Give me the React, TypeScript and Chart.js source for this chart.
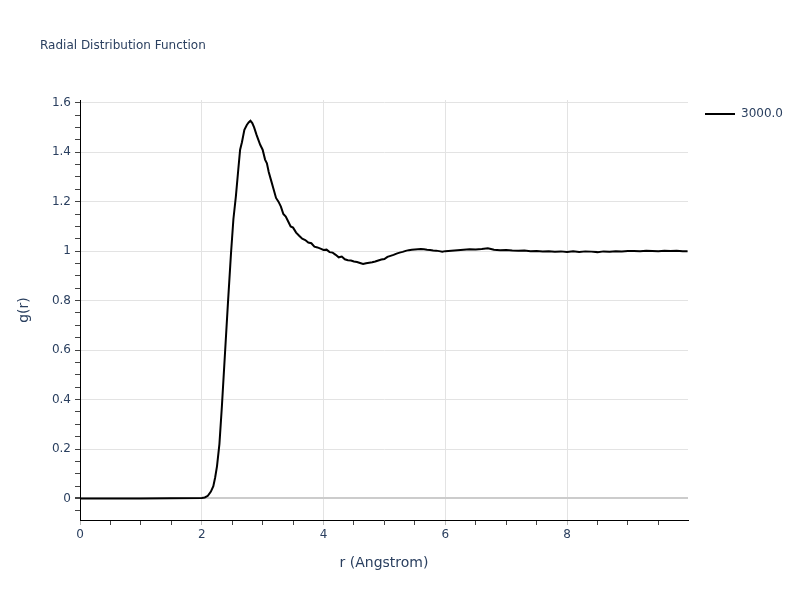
import { useEffect, useRef } from 'react';
import { Chart, registerables } from 'chart.js';

Chart.register(...registerables);

// r (Angstrom) sample positions and the g(r) values
const rValues = [
  0, 0.5, 1.0, 1.5, 2.0, 2.05, 2.1, 2.15, 2.19, 2.22, 2.25, 2.29, 2.33, 2.38, 2.43, 2.48,
  2.52, 2.56, 2.6, 2.63, 2.66, 2.7, 2.74, 2.77, 2.8, 2.83, 2.86, 2.9, 2.93, 2.96,
  3.0, 3.04, 3.07, 3.1, 3.14, 3.18, 3.22, 3.26, 3.3, 3.34, 3.38, 3.42, 3.46, 3.5,
  3.55, 3.6, 3.65, 3.7, 3.75, 3.8, 3.85, 3.9, 3.95, 4.0, 4.05, 4.1, 4.15, 4.2, 4.25,
  4.3, 4.35, 4.4, 4.45, 4.5, 4.55, 4.6, 4.65, 4.7, 4.75, 4.8, 4.85, 4.9, 4.95, 5.0,
  5.05, 5.1, 5.15, 5.2, 5.25, 5.3, 5.35, 5.4, 5.45, 5.5, 5.55, 5.6, 5.65, 5.7, 5.75,
  5.8, 5.85, 5.9, 5.95, 6.0, 6.1, 6.2, 6.3, 6.4, 6.5, 6.6, 6.7, 6.8, 6.9, 7.0, 7.1,
  7.2, 7.3, 7.4, 7.5, 7.6, 7.7, 7.8, 7.9, 8.0, 8.1, 8.2, 8.3, 8.4, 8.5, 8.6, 8.7,
  8.8, 8.9, 9.0, 9.1, 9.2, 9.3, 9.4, 9.5, 9.6, 9.7, 9.8, 9.9, 9.98,
];
const gValues = [
  0, 0, 0, 0.001, 0.002, 0.004, 0.011, 0.028, 0.05, 0.085, 0.13, 0.22, 0.37, 0.58, 0.79, 0.99,
  1.13, 1.22, 1.33, 1.41, 1.44, 1.49, 1.51, 1.52, 1.527, 1.518, 1.5, 1.47, 1.45, 1.43,
  1.41, 1.37, 1.355, 1.32, 1.285, 1.25, 1.215, 1.2, 1.18, 1.15, 1.14, 1.12, 1.1, 1.095,
  1.075, 1.062, 1.05, 1.045, 1.035, 1.032, 1.018, 1.015, 1.01, 1.005, 1.006, 0.996, 0.994, 0.985, 0.975,
  0.978, 0.967, 0.963, 0.962, 0.958, 0.956, 0.952, 0.948, 0.951, 0.953, 0.955, 0.958, 0.962, 0.966, 0.968,
  0.977, 0.981, 0.985, 0.99, 0.994, 0.997, 1.001, 1.004, 1.006, 1.007, 1.008, 1.009, 1.008, 1.006, 1.005,
  1.003, 1.002, 1.0, 0.998, 1.0, 1.002, 1.004, 1.006, 1.008, 1.007, 1.009, 1.012, 1.006, 1.004, 1.005, 1.003,
  1.002, 1.003, 1.0, 1.001, 0.999, 1.0, 0.998, 0.999, 0.997, 0.999, 0.997, 0.999, 0.998, 0.996, 0.999, 0.998,
  1.0, 0.999, 1.001, 1.001, 1.0, 1.002, 1.001, 1.0, 1.002, 1.001, 1.002, 1.0, 1.0,
];

const xTickLabels = [0, 2, 4, 6, 8];
const yTickLabels = [0, 0.2, 0.4, 0.6, 0.8, 1, 1.2, 1.4, 1.6];
const seriesName = '3000.0';

const FONT = '"DejaVu Sans", sans-serif';
const TEXT = '#2a3f5f';
const X_MIN = 0;
const X_MAX = 9.987;
const Y_MIN = -0.087;
const Y_MAX = 1.611;

const isLabelled = (list: number[], v: number) => list.some((t) => Math.abs(t - v) < 1e-6);

function minorTicks(min: number, max: number, step: number) {
  const out: { value: number }[] = [];
  for (let v = Math.ceil(min / step) * step; v <= max + 1e-9; v += step) {
    out.push({ value: Math.round(v * 1000) / 1000 });
  }
  return out;
}

const decorations = {
  id: 'decorations',
  afterDraw(chart: Chart) {
    const { ctx, chartArea } = chart;
    ctx.save();
    ctx.fillStyle = TEXT;
    ctx.textBaseline = 'middle';

    ctx.font = `12px ${FONT}`;
    ctx.textAlign = 'left';
    ctx.fillText('Radial Distribution Function', 40, 46);

    ctx.font = `14px ${FONT}`;
    ctx.textAlign = 'center';
    ctx.fillText('r (Angstrom)', (chartArea.left + chartArea.right) / 2, 563);

    ctx.save();
    ctx.translate(24, (chartArea.top + chartArea.bottom) / 2);
    ctx.rotate(-Math.PI / 2);
    ctx.fillText('g(r)', 0, 0);
    ctx.restore();

    // legend
    ctx.strokeStyle = '#000';
    ctx.lineWidth = 2;
    ctx.beginPath();
    ctx.moveTo(705, 114);
    ctx.lineTo(735, 114);
    ctx.stroke();
    ctx.font = `12px ${FONT}`;
    ctx.textAlign = 'left';
    ctx.fillText(seriesName, 741, 114);
    ctx.restore();
  },
};

export default function App() {
  const canvasRef = useRef<HTMLCanvasElement>(null);
  const chartRef = useRef<Chart | null>(null);

  useEffect(() => {
    if (!canvasRef.current) return;
    const ctx = canvasRef.current.getContext('2d');
    if (!ctx) return;

    chartRef.current?.destroy();
    chartRef.current = new Chart(ctx, {
      type: 'line',
      data: {
        datasets: [{
          label: seriesName,
          data: rValues.map((r, i) => ({ x: r, y: gValues[i] })),
          borderColor: '#000',
          borderWidth: 2,
          pointRadius: 0,
          tension: 0,
          fill: false,
        }],
      },
      options: {
        responsive: false,
        animation: false,
        layout: { padding: { top: 100, right: 112, bottom: 0, left: 0 } },
        plugins: {
          legend: { display: false },
          tooltip: { enabled: false },
        },
        scales: {
          x: {
            type: 'linear',
            min: X_MIN,
            max: X_MAX,
            afterBuildTicks: (axis: any) => { axis.ticks = minorTicks(X_MIN, X_MAX, 0.5); },
            afterFit: (axis: any) => { axis.height = 80; },
            border: { display: true, color: '#000', width: 1 },
            grid: {
              color: (c: any) => (isLabelled(xTickLabels, c.tick.value) && c.tick.value !== 0 ? '#e3e3e3' : 'transparent'),
              tickColor: (c: any) => (isLabelled(xTickLabels, c.tick.value) ? '#bbbbbb' : '#444'),
              tickLength: 5,
              lineWidth: 1,
            },
            ticks: {
              autoSkip: false,
              maxRotation: 0,
              padding: 3,
              color: TEXT,
              font: { family: FONT, size: 12 },
              callback: (v: any) => (isLabelled(xTickLabels, Number(v)) ? String(v) : ''),
            },
          },
          y: {
            min: Y_MIN,
            max: Y_MAX,
            afterBuildTicks: (axis: any) => { axis.ticks = minorTicks(Y_MIN, Y_MAX, 0.05); },
            afterFit: (axis: any) => { axis.width = 80; },
            border: { display: true, color: '#000', width: 1 },
            grid: {
              color: (c: any) => {
                const v = c.tick.value;
                if (Math.abs(v) < 1e-6) return '#cccccc';
                return isLabelled(yTickLabels, v) ? '#e3e3e3' : 'transparent';
              },
              lineWidth: (c: any) => (Math.abs(c.tick.value) < 1e-6 ? 2 : 1),
              tickColor: '#444',
              tickLength: 5,
            },
            ticks: {
              autoSkip: false,
              padding: 4,
              color: TEXT,
              font: { family: FONT, size: 12 },
              callback: (v: any) => (isLabelled(yTickLabels, Number(v)) ? String(Number(v)) : ''),
            },
          },
        },
      },
      plugins: [decorations],
    });

    return () => { chartRef.current?.destroy(); };
  }, []);

  return (
    <div style={{ position: 'absolute', left: 0, top: 0, width: 800, height: 600, background: '#fff' }}>
      <canvas ref={canvasRef} width={800} height={600} />
    </div>
  );
}
